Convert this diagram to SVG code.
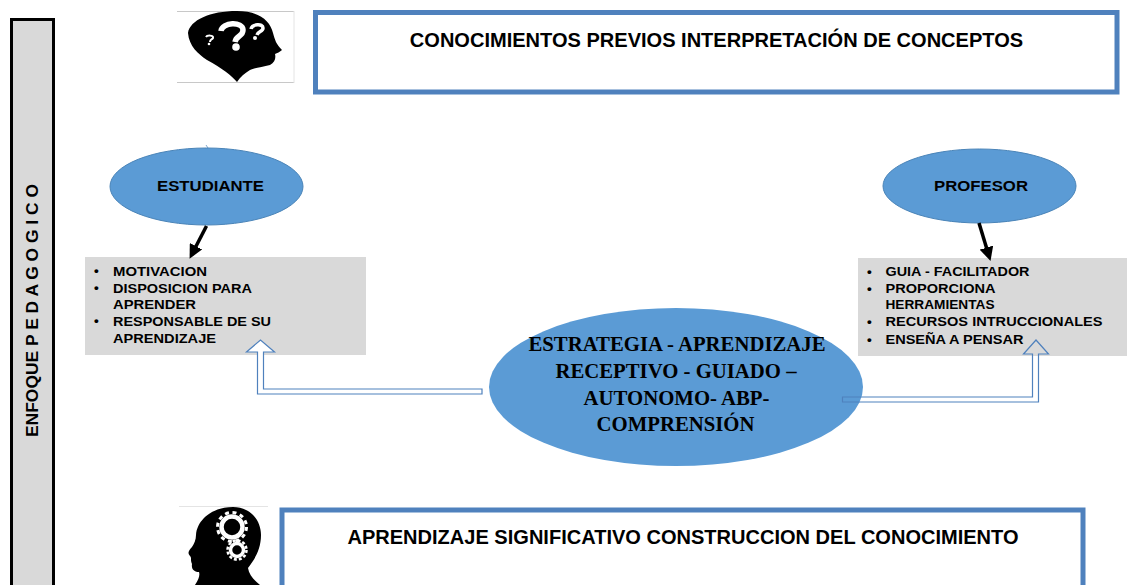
<svg xmlns="http://www.w3.org/2000/svg" width="1127" height="585" viewBox="0 0 1127 585">
<style>
.t{font-family:"Liberation Sans",Arial,sans-serif;font-weight:700;fill:#000}
.title{font-size:20.050px;text-anchor:middle}
.side{font-size:16px}
.el{font-size:14.5px}
.li{font-size:13.5px}
.c{font-family:"Liberation Serif","Times New Roman",serif;font-weight:700;font-size:20.750px;text-anchor:middle;fill:#000}
.ell{fill:#5b9bd5;stroke:#4a84b8;stroke-width:1}
.box{fill:#fff;stroke:#4f81bd;stroke-width:5}
.grey{fill:#d9d9d9}
.hollow{fill:#fff;stroke:#4f81bd;stroke-width:1.2}
.hollowT{fill:none;stroke:#4f81bd;stroke-width:1.2}
</style>
<defs>
<marker id="ah" markerWidth="4" markerHeight="4" refX="2.500" refY="2" orient="auto"><path d="M0,0L4,2L0,4Z" fill="#000"/></marker>
</defs>
<g id="enfoque">
<rect x="11.500" y="19.500" width="42" height="580" fill="#d9d9d9" stroke="#000" stroke-width="3"/>
<text class="t side" transform="translate(37.500,437) rotate(-90)" textLength="253" lengthAdjust="spacingAndGlyphs">ENFOQUE P E D A G O G I C O</text>
</g>
<g id="icono-preguntas">
<rect x="177" y="11" width="117" height="72" fill="#fff"/>
<path d="M177,11.500H294M177,82.500H294" stroke="#c8c8c8" stroke-width="1" fill="none"/>
<path d="M294,11V83" stroke="#e4e4e4" stroke-width="1"/>
<path d="M237,82C232,76 222,68 207,60C198,54 189,46 188,33C190,20 210,11 237,11C258,11 270,20 273,33C275,40 276,44 282,50C280,52 277,53 275,54C276,58 275,62 270,65C262,67 254,68 250,70C245,73 240,77 237,82Z" fill="#000"/>
<path d="M221,31C222,22 243,21 243,30C243,37 236,35 235,42" fill="none" stroke="#fff" stroke-width="5.500"/>
<circle cx="236" cy="47" r="3.800" fill="#fff"/>
<path d="M251,29C252,24 263,23 263,28C263,32 258,31 257,35" fill="none" stroke="#fff" stroke-width="3.500"/>
<circle cx="255" cy="38" r="2" fill="#fff"/>
<path d="M206,37C207,35 214,35 213,38C212,40 210,39 210,42" fill="none" stroke="#fff" stroke-width="2"/>
<circle cx="209" cy="44" r="1.300" fill="#fff"/>
</g>
<g id="conocimientos">
<rect class="box" x="315.500" y="12.500" width="801.500" height="79.500"/>
<text class="t title" x="716.500" y="47">CONOCIMIENTOS PREVIOS INTERPRETACIÓN DE CONCEPTOS</text>
</g>
<g id="estudiante">
<path d="M206,145L208,148" fill="none" stroke="#7fa8cf" stroke-width="1"/>
<ellipse class="ell" cx="206.500" cy="186.500" rx="96.500" ry="38.500"/>
<text class="t el" x="157" y="191" textLength="107" lengthAdjust="spacingAndGlyphs">ESTUDIANTE</text>
</g>
<g id="profesor">
<ellipse class="ell" cx="979.500" cy="186" rx="96.500" ry="37"/>
<text class="t el" x="934" y="191" textLength="94" lengthAdjust="spacingAndGlyphs">PROFESOR</text>
</g>
<g id="lista-estudiante">
<rect class="grey" x="85" y="257" width="281" height="98"/>
<text class="t li" x="94" y="275">•</text><text class="t li" x="113" y="275.500" textLength="94" lengthAdjust="spacingAndGlyphs">MOTIVACION</text>
<text class="t li" x="94" y="292">•</text><text class="t li" x="113" y="292.500" textLength="139" lengthAdjust="spacingAndGlyphs">DISPOSICION PARA</text>
<text class="t li" x="113" y="308.500" textLength="83" lengthAdjust="spacingAndGlyphs">APRENDER</text>
<text class="t li" x="94" y="325">•</text><text class="t li" x="113" y="325.500" textLength="158" lengthAdjust="spacingAndGlyphs">RESPONSABLE DE SU</text>
<text class="t li" x="113" y="342.500" textLength="103" lengthAdjust="spacingAndGlyphs">APRENDIZAJE</text>
</g>
<g id="lista-profesor">
<rect class="grey" x="858" y="258" width="269" height="98"/>
<text class="t li" x="867" y="275.500">•</text><text class="t li" x="885.500" y="275.500" textLength="144" lengthAdjust="spacingAndGlyphs">GUIA - FACILITADOR</text>
<text class="t li" x="867" y="292.500">•</text><text class="t li" x="885.500" y="292.500" textLength="110" lengthAdjust="spacingAndGlyphs">PROPORCIONA</text>
<text class="t li" x="885.500" y="308.500" textLength="109" lengthAdjust="spacingAndGlyphs">HERRAMIENTAS</text>
<text class="t li" x="867" y="326">•</text><text class="t li" x="885.500" y="326" textLength="217" lengthAdjust="spacingAndGlyphs">RECURSOS INTRUCCIONALES</text>
<text class="t li" x="867" y="344">•</text><text class="t li" x="885.500" y="344" textLength="138" lengthAdjust="spacingAndGlyphs">ENSEÑA A PENSAR</text>
</g>
<g id="estrategia">
<ellipse cx="676" cy="387" rx="187" ry="79" fill="#5b9bd5"/>
<text class="c" x="677" y="351">ESTRATEGIA - APRENDIZAJE</text>
<text class="c" x="676" y="378">RECEPTIVO - GUIADO –</text>
<text class="c" x="676.500" y="405">AUTONOMO- ABP-</text>
<text class="c" x="675.500" y="431">COMPRENSIÓN</text>
</g>
<g id="connectors">
<path d="M206.500,226L192,254" fill="none" stroke="#000" stroke-width="3.500" marker-end="url(#ah)"/>
<path d="M979,223L989,256" fill="none" stroke="#000" stroke-width="3.500" marker-end="url(#ah)"/>
<path class="hollow" d="M482,394H257.500V352H246.500L260.500,340L274.500,352H263.500V389H482Z"/>
<path class="hollowT" d="M842.500,397H1032.500V354H1023.500L1036,340L1048.500,354H1038.500V402H842.500Z"/>
</g>
<g id="icono-engranajes">
<rect x="179" y="506" width="89" height="79" fill="#fff"/>
<path d="M179,506.500H268" stroke="#e4e4e4" stroke-width="1"/>
<path d="M195,585C199,579 200,575 199,572C195,572 191,570 192,564C190,560 192,558 190,556C187,553 189,550 192,547C194,544 196,540 196,535C197,520 212,507 233,507C250,507 261,520 261,535C261,550 254,560 248,568C249,575 254,580 260,585Z" fill="#000"/>
<circle cx="232" cy="527" r="10.500" fill="none" stroke="#fff" stroke-width="4.500"/>
<circle cx="232" cy="527" r="14.500" fill="none" stroke="#fff" stroke-width="3" stroke-dasharray="4 3.600"/>
<circle cx="237" cy="550" r="6.500" fill="none" stroke="#fff" stroke-width="3.500"/>
<circle cx="237" cy="550" r="9.500" fill="none" stroke="#fff" stroke-width="2.500" stroke-dasharray="3 2"/>
</g>
<g id="aprendizaje">
<rect class="box" x="282" y="510" width="801" height="100"/>
<text class="t title" x="683" y="544">APRENDIZAJE SIGNIFICATIVO CONSTRUCCION DEL CONOCIMIENTO</text>
</g>
</svg>
